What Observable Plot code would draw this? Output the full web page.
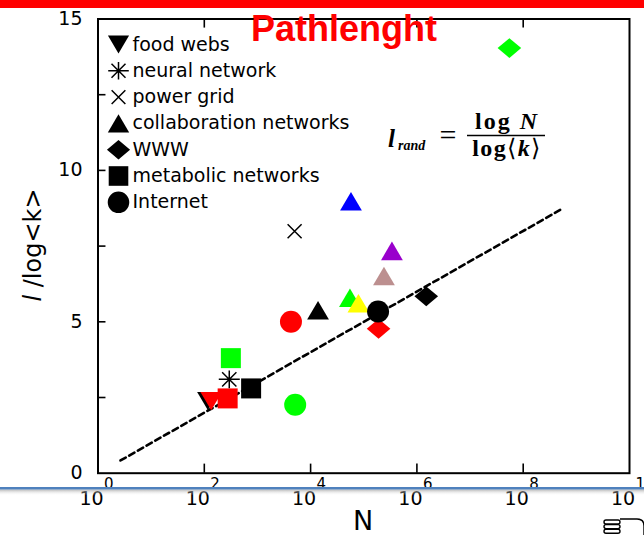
<!DOCTYPE html>
<html>
<head>
<meta charset="utf-8">
<script src="https://cdn.jsdelivr.net/npm/d3@7"></script>
<script src="https://cdn.jsdelivr.net/npm/@observablehq/plot@0.6"></script>
<style>
  html, body { margin: 0; padding: 0; background: #fff; overflow: hidden; }
  #chart svg { display: block; }
</style>
</head>
<body>
<div id="chart"></div>
<script>
// ---------- data ----------
const categories = ["food webs", "neural network", "power grid", "collaboration networks", "WWW", "metabolic networks", "Internet"];
const drawOrder = ["food webs", "metabolic networks", "neural network", "power grid", "collaboration networks", "WWW", "Internet"];

const pointCat = [
  "food webs", "food webs",
  "metabolic networks", "metabolic networks", "metabolic networks",
  "neural network",
  "power grid",
  "collaboration networks", "collaboration networks", "collaboration networks",
  "collaboration networks", "collaboration networks", "collaboration networks",
  "WWW", "WWW", "WWW",
  "Internet", "Internet", "Internet"
];
const pointN = [
  117, 135,
  316, 760, 275,
  295,
  5000,
  57500, 339000, 240000, 13800, 55000, 79400,
  5.5e7, 1.5e6, 1.9e5,
  4270, 5130, 186000
];
const pointY = [
  2.48, 2.48,
  3.80, 2.80, 2.47,
  3.10,
  7.99,
  8.88, 7.24, 6.41, 5.28, 5.69, 5.51,
  14.04, 5.84, 4.77,
  5.00, 2.26, 5.34
];
const pointColor = [
  "#000000", "#ff0000",
  "#00ff00", "#000000", "#ff0000",
  "#000000",
  "#000000",
  "#0000ff", "#9900cc", "#bc8f8f", "#000000", "#00ff00", "#ffff00",
  "#00ff00", "#000000", "#ff0000",
  "#ff0000", "#00ff00", "#000000"
];

// dashed reference line  l = log N / log<k>
const lineN = [2.65, 5.5e8];
const lineY = [0.42, 8.74];

const xTicks = [1, 1e2, 1e4, 1e6, 1e8, 1e10];
const xTickBase = ["10", "10", "10", "10", "10", "10"];
const xTickExp = ["0", "2", "4", "6", "8", "10"];
const yTicks = [0, 5, 10, 15];
const yMinorTicks = [2.5, 5, 7.5, 10, 12.5];

// ---------- symbols ----------
const rOf = s => Math.sqrt(s / Math.PI);
const symTriUp = { draw(c, s) { const r = rOf(s), h = 1.7 * r; c.moveTo(0, -2 * h / 3); c.lineTo(r, h / 3); c.lineTo(-r, h / 3); c.closePath(); } };
const symTriDown = { draw(c, s) { const r = rOf(s), h = 1.7 * r; c.moveTo(0, 2 * h / 3); c.lineTo(r, -h / 3); c.lineTo(-r, -h / 3); c.closePath(); } };
const symDiamond = { draw(c, s) { const r = rOf(s), v = 0.84 * r; c.moveTo(0, -v); c.lineTo(r, 0); c.lineTo(0, v); c.lineTo(-r, 0); c.closePath(); } };
const symSquare = { draw(c, s) { const r = rOf(s); c.moveTo(-r, -r); c.lineTo(r, -r); c.lineTo(r, r); c.lineTo(-r, r); c.closePath(); } };
const symCircle = { draw(c, s) { const r = rOf(s); c.moveTo(r, 0); c.arc(0, 0, r, 0, 2 * Math.PI); c.closePath(); } };
const symAsterisk = { draw(c, s) { const r = rOf(s), d = 0.68 * r;
  c.moveTo(-r, 0); c.lineTo(r, 0);
  c.moveTo(0, -0.85 * r); c.lineTo(0, 0.85 * r);
  c.moveTo(-d, -d); c.lineTo(d, d);
  c.moveTo(d, -d); c.lineTo(-d, d); } };
const symTimes = { draw(c, s) { const r = rOf(s); c.moveTo(-r, -r); c.lineTo(r, r); c.moveTo(r, -r); c.lineTo(-r, r); } };

const catStyle = {
  "food webs":              { symbol: symTriDown, r: 10.8, filled: true,  dy: -3 },
  "neural network":         { symbol: symAsterisk, r: 10.5, filled: false, dy: 0 },
  "power grid":             { symbol: symTimes, r: 7, filled: false, dy: 0 },
  "collaboration networks": { symbol: symTriUp, r: 10.9, filled: true, dy: 3 },
  "WWW":                    { symbol: symDiamond, r: 11.8, filled: true, dy: 0 },
  "metabolic networks":     { symbol: symSquare, r: 10, filled: true, dy: 0 },
  "Internet":               { symbol: symCircle, r: 11, filled: true, dy: 0 }
};

const points = pointN.map((n, i) => ({ N: n, y: pointY[i], cat: pointCat[i], color: pointColor[i] }));
const lineData = lineN.map((n, i) => ({ N: n, y: lineY[i] }));

const FONT = "DejaVu Sans, Verdana, sans-serif";
const marginLeft = 97.5, marginTop = 18.5, marginRight = 15, marginBottom = 62.3;

const marks = [
  Plot.ruleX(xTicks.slice(1, -1), { x: d => d, y1: 0, y2: 0.3, stroke: "#000", strokeWidth: 1.6 }),
  Plot.ruleX(xTicks.slice(1, -1), { x: d => d, y1: 15, y2: 14.7, stroke: "#000", strokeWidth: 1.6 }),
  Plot.ruleY(yMinorTicks, { y: d => d, x1: 1, x2: 10 ** 0.15, stroke: "#000", strokeWidth: 1.6 }),
  Plot.line(lineData, { x: "N", y: "y", stroke: "#000", strokeWidth: 2.6, strokeDasharray: "6,4" })
];

for (const cat of drawOrder) {
  const st = catStyle[cat];
  marks.push(Plot.dot(points.filter(p => p.cat === cat), {
    x: "N", y: "y", symbol: st.symbol, r: st.r,
    fill: st.filled ? (d => d.color) : "none",
    stroke: st.filled ? "none" : (d => d.color),
    strokeWidth: 1.5
  }));
}

marks.push(Plot.frame({ stroke: "#000", strokeWidth: 2 }));

// legend
const rowY = [44, 70.3, 96.6, 122.9, 149.2, 175.5, 201.8];
categories.forEach((cat, i) => {
  const st = catStyle[cat];
  marks.push(Plot.dot([cat], {
    frameAnchor: "top-left", dx: 20.5, dy: rowY[i] - marginTop + st.dy,
    symbol: st.symbol, r: st.r * 0.98,
    fill: st.filled ? "#000" : "none", stroke: st.filled ? "none" : "#000", strokeWidth: 1.5
  }));
  marks.push(Plot.text([cat], {
    frameAnchor: "top-left", lineAnchor: "middle", dx: 34.5, dy: rowY[i] - marginTop,
    text: d => d, textAnchor: "start", fontSize: 19, fontFamily: FONT, fill: "#000"
  }));
});

// axis labels
marks.push(Plot.text(yTicks, { y: d => d, frameAnchor: "left", lineAnchor: "middle", dx: -15.5, textAnchor: "end", text: d => String(d), fontSize: 19, fontFamily: FONT, fill: "#000" }));
marks.push(Plot.text(xTicks, { x: d => d, frameAnchor: "bottom", lineAnchor: "middle", dy: 25.5, dx: -6.5, text: (d, i) => xTickBase[i], fontSize: 19, fontFamily: FONT, fill: "#000" }));
marks.push(Plot.text(xTicks, { x: d => d, frameAnchor: "bottom", lineAnchor: "middle", dy: 10.5, dx: 6, textAnchor: "start", text: (d, i) => xTickExp[i], fontSize: 15, fontFamily: FONT, fill: "#000" }));

const chart = Plot.plot({
  width: 644, height: 535,
  marginLeft, marginTop, marginRight, marginBottom,
  x: { type: "log", domain: [1, 1e10], axis: null },
  y: { domain: [0, 15], axis: null },
  color: { type: "identity" },
  style: { background: "#fff", fontFamily: FONT },
  marks
});
document.getElementById("chart").appendChild(chart);

// ---------- decorations ----------
const svg = d3.select(chart);

// red bar on top
svg.append("rect").attr("x", 0).attr("y", 0).attr("width", 644).attr("height", 8).attr("fill", "#ff0000");

// title
svg.append("text").attr("x", 344).attr("y", 41).attr("text-anchor", "middle")
  .attr("font-family", "Liberation Sans, Arial, sans-serif").attr("font-weight", "bold")
  .attr("font-size", 36).attr("fill", "#ff0000").text("Pathlenght");

// y label
const yl = svg.append("text").attr("transform", "translate(41,245) rotate(-90)")
  .attr("text-anchor", "middle").attr("font-family", FONT).attr("font-size", 24).attr("fill", "#000");
yl.append("tspan").attr("font-style", "italic").text("l");
yl.append("tspan").text(" /log<k>");

// x label
svg.append("text").attr("x", 363).attr("y", 530).attr("text-anchor", "middle")
  .attr("font-family", FONT).attr("font-size", 27).attr("fill", "#000").text("N");

// formula: l_rand = log N / log<k>
const SERIF = "Liberation Serif, Times New Roman, serif";
const lr = svg.append("text").attr("x", 388).attr("y", 147).attr("text-anchor", "start").attr("font-family", SERIF)
  .attr("font-weight", "bold").attr("font-style", "italic").attr("fill", "#000");
lr.append("tspan").attr("font-size", 25).text("l");
lr.append("tspan").attr("font-size", 14).attr("dx", 3).attr("dy", 3).text("rand");
svg.append("text").attr("x", 448).attr("y", 145).attr("text-anchor", "middle").attr("font-family", SERIF)
  .attr("font-size", 30).attr("fill", "#000").text("=");
const num = svg.append("text").attr("x", 507).attr("y", 129).attr("text-anchor", "middle").attr("font-family", SERIF)
  .attr("font-weight", "bold").attr("font-size", 24).attr("letter-spacing", 2).attr("fill", "#000");
num.append("tspan").text("log ");
num.append("tspan").attr("font-style", "italic").text("N");
svg.append("line").attr("x1", 467).attr("x2", 545).attr("y1", 135.5).attr("y2", 135.5).attr("stroke", "#000").attr("stroke-width", 1.5);
const den = svg.append("text").attr("x", 507).attr("y", 156).attr("text-anchor", "middle").attr("font-family", SERIF)
  .attr("font-weight", "bold").attr("font-size", 24).attr("letter-spacing", 1.5).attr("fill", "#000");
den.append("tspan").text("log");
den.append("tspan").attr("font-weight", "normal").text("\u27E8");
den.append("tspan").attr("font-style", "italic").text("k");
den.append("tspan").attr("font-weight", "normal").text("\u27E9");

// blue separator line with shadow
const defs = svg.append("defs");
const g = defs.append("linearGradient").attr("id", "shadowGrad").attr("x1", 0).attr("x2", 0).attr("y1", 0).attr("y2", 1);
g.append("stop").attr("offset", 0).attr("stop-color", "#9a9a9a").attr("stop-opacity", 0.7);
g.append("stop").attr("offset", 1).attr("stop-color", "#ffffff").attr("stop-opacity", 0);
svg.append("rect").attr("x", 0).attr("y", 489.5).attr("width", 644).attr("height", 6).attr("fill", "url(#shadowGrad)");
svg.append("rect").attr("x", 0).attr("y", 487).attr("width", 644).attr("height", 2.5).attr("fill", "#4f81bd");

// small icon bottom-right
const ic = svg.append("g").attr("fill", "none").attr("stroke", "#000").attr("stroke-width", 1.4);
for (let k = 0; k < 3; k++) {
  ic.append("rect").attr("x", 604).attr("y", 520 + k * 4.6).attr("width", 16).attr("height", 4).attr("rx", 2);
}
ic.append("path").attr("d", "M620,519 H637 Q644,519 644,526 V535");
</script>
</body>
</html>
